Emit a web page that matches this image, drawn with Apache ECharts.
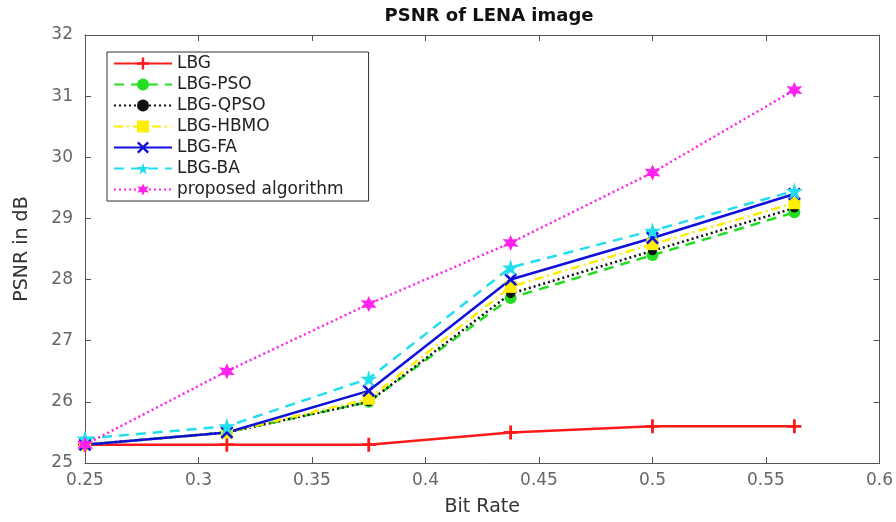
<!DOCTYPE html>
<html>
<head>
<meta charset="utf-8">
<script src="https://cdn.jsdelivr.net/npm/echarts@6/dist/echarts.min.js"></script>
<style>
  html, body { margin: 0; padding: 0; background: #fff; }
  #chart { width: 896px; height: 522px; }
</style>
</head>
<body>
<div id="chart"></div>
<script>
// bit rates (x) and PSNR values
const bitRates = [0.25, 0.3125, 0.375, 0.4375, 0.5, 0.5625];
const lbg      = [25.3, 25.3, 25.3, 25.5, 25.6, 25.6];
const lbgPso   = [25.3, 25.5, 26.0, 27.7, 28.4, 29.1];
const lbgQpso  = [25.3, 25.5, 26.0, 27.77, 28.47, 29.17];
const lbgHbmo  = [25.3, 25.5, 26.05, 27.88, 28.58, 29.25];
const lbgFa    = [25.3, 25.5, 26.18, 28.0, 28.68, 29.4];
const lbgBa    = [25.4, 25.6, 26.38, 28.2, 28.8, 29.45];
const proposed = [25.3, 26.5, 27.6, 28.6, 29.75, 31.1];

const seriesNames = ["LBG", "LBG-PSO", "LBG-QPSO", "LBG-HBMO", "LBG-FA", "LBG-BA", "proposed algorithm"];

const FONT = "DejaVu Sans";

const plusPath = "path://M4,0h2v4h4v2h-4v4h-2v-4h-4v-2h4z";
const xPath = "path://M1.4,0L5,3.6L8.6,0L10,1.4L6.4,5L10,8.6L8.6,10L5,6.4L1.4,10L0,8.6L3.6,5L0,1.4z";
const starPath = "path://M50,0L61,35H98L68,57L79,91L50,70L21,91L32,57L2,35H39z";
const hexPath = "path://M50,0L62,29L93,25L74,50L93,75L62,71L50,100L38,71L7,75L26,50L7,25L38,29z";

function pts(ys) {
  return bitRates.map((x, i) => [x, ys[i]]);
}

function mk(name, ys, color, dash, symbol, size) {
  return {
    name: name,
    type: "line",
    data: pts(ys),
    symbol: symbol,
    symbolSize: size,
    showAllSymbol: true,
    lineStyle: { color: color, width: 2.5, type: dash },
    itemStyle: { color: color, borderWidth: 0 },
    emphasis: { disabled: true }
  };
}

const chart = echarts.init(document.getElementById("chart"));

const option = {
  backgroundColor: "#fff",
  animation: false,
  title: {
    text: "PSNR of LENA image",
    left: 484,
    textAlign: "center",
    top: 2,
    textStyle: { fontFamily: FONT, fontSize: 18, fontWeight: "bold", color: "#111" }
  },
  legend: {
    orient: "vertical",
    left: 107,
    top: 52,
    padding: [3, 25, 3, 6],
    itemWidth: 58,
    itemHeight: 15,
    itemGap: 4,
    borderColor: "#333",
    borderWidth: 1,
    backgroundColor: "#fff",
    data: seriesNames,
    textStyle: { fontFamily: FONT, fontSize: 17, color: "#222" }
  },
  grid: { left: 85, right: 12, top: 35, bottom: 57, containLabel: false },
  xAxis: [
    {
      type: "value",
      min: 0.25,
      max: 0.6,
      interval: 0.05,
      name: "Bit Rate",
      nameLocation: "middle",
      nameGap: 35,
      nameTextStyle: { fontFamily: FONT, fontSize: 19, color: "#333" },
      axisLine: { lineStyle: { color: "#555", width: 1 } },
      axisTick: { inside: true, length: 6, lineStyle: { color: "#555" } },
      axisLabel: {
        fontFamily: FONT, fontSize: 17, color: "#666", margin: 9,
        formatter: v => String(+v.toFixed(2))
      },
      splitLine: { show: false }
    },
    {
      type: "value",
      position: "top",
      min: 0.25,
      max: 0.6,
      interval: 0.05,
      axisLine: { lineStyle: { color: "#555", width: 1 } },
      axisTick: { inside: true, length: 6, lineStyle: { color: "#555" } },
      axisLabel: { show: false },
      splitLine: { show: false }
    }
  ],
  yAxis: [
    {
      type: "value",
      min: 25,
      max: 32,
      interval: 1,
      name: "PSNR in dB",
      nameLocation: "middle",
      nameGap: 53,
      nameTextStyle: { fontFamily: FONT, fontSize: 19, color: "#333" },
      axisLine: { show: true, lineStyle: { color: "#555", width: 1 } },
      axisTick: { show: true, inside: true, length: 6, lineStyle: { color: "#555" } },
      axisLabel: { fontFamily: FONT, fontSize: 17, color: "#666", margin: 12 },
      splitLine: { show: false }
    },
    {
      type: "value",
      position: "right",
      min: 25,
      max: 32,
      interval: 1,
      axisLine: { show: true, lineStyle: { color: "#555", width: 1 } },
      axisTick: { show: true, inside: true, length: 6, lineStyle: { color: "#555" } },
      axisLabel: { show: false },
      splitLine: { show: false }
    }
  ],
  series: [
    mk(seriesNames[0], lbg, "#ff1a1a", "solid", plusPath, 14),
    mk(seriesNames[1], lbgPso, "#22dd22", [10, 7], "circle", 12),
    mk(seriesNames[2], lbgQpso, "#111111", [2, 3], "circle", 9),
    mk(seriesNames[3], lbgHbmo, "#ffee00", [9, 4, 2, 4], "rect", 12),
    mk(seriesNames[4], lbgFa, "#1010dd", "solid", xPath, 13),
    mk(seriesNames[5], lbgBa, "#22ddee", [10, 7], starPath, 17),
    mk(seriesNames[6], proposed, "#ff22ee", [2, 3], hexPath, 16)
  ]
};

chart.setOption(option);
</script>
</body>
</html>
